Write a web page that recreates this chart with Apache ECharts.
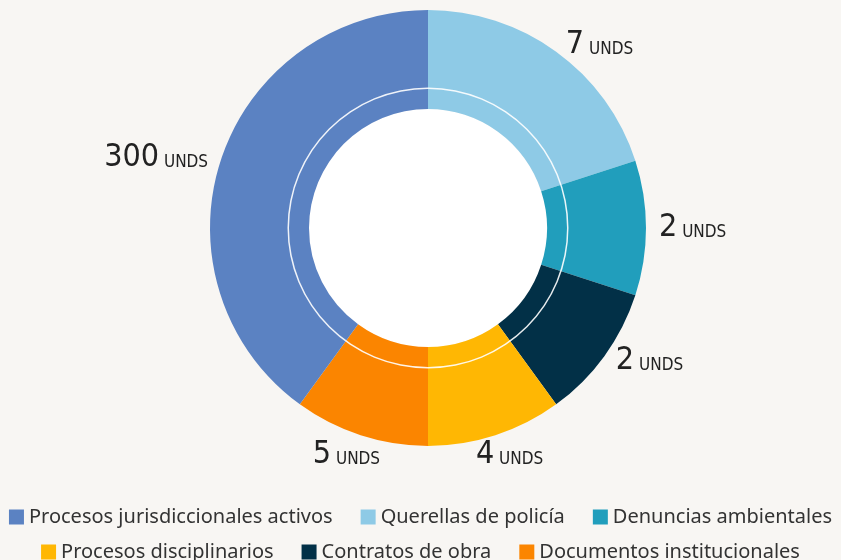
<!DOCTYPE html>
<html lang="es">
<head>
  <meta charset="UTF-8">
  <title>Unidades</title>
  <script src="https://cdn.jsdelivr.net/npm/echarts@6/dist/echarts.min.js"></script>
  <style>
    * { padding: 0; margin: 0; }
    body { background: #f8f6f3; }
    #box { width: 841px; height: 560px; }
  </style>
</head>
<body>
  <div id="box"></div>
  <script>
    // orden de las porciones en el anillo (desde arriba, sentido horario)
    var categorias = ['Querellas de policía', 'Denuncias ambientales', 'Contratos de obra',
      'Procesos disciplinarios', 'Documentos institucionales', 'Procesos jurisdiccionales activos']
    // tamaño de cada porción (%)
    var porcion = [20, 10, 10, 10, 10, 40]
    // unidades que se muestran en la etiqueta
    var unidades = [7, 2, 2, 4, 5, 300]
    var colores = ['#8ecae6', '#219ebc', '#023047', '#ffb703', '#fb8500', '#5b82c2']

    var leyenda1 = ['Procesos jurisdiccionales activos', 'Querellas de policía', 'Denuncias ambientales']
    var leyenda2 = ['Procesos disciplinarios', 'Contratos de obra', 'Documentos institucionales']

    var datos = []
    for (let i = 0; i < categorias.length; i++) {
      datos.push({
        name: categorias[i],
        value: porcion[i],
        unds: unidades[i],
        itemStyle: { color: colores[i] }
      })
    }

    // seno del ángulo medio de cada porción (para centrar las etiquetas de abajo)
    var total = porcion.reduce(function (a, b) { return a + b }, 0)
    function senoMedio(i) {
      var acum = 0
      for (let k = 0; k < i; k++) acum += porcion[k]
      var ang = (acum + porcion[i] / 2) / total * Math.PI * 2
      return Math.sin(ang)
    }

    var fuenteNum = "'DejaVu Sans Condensed', 'DejaVu Sans', sans-serif"

    var legendaBase = {
      icon: 'rect',
      itemWidth: 15,
      itemHeight: 15,
      itemGap: 28,
      selectedMode: false,
      textStyle: { fontFamily: 'Noto Sans', fontSize: 20, color: '#333' }
    }

    var mCharts = echarts.init(document.getElementById('box'))
    var option = {
      backgroundColor: '#f8f6f3',
      legend: [
        Object.assign({}, legendaBase, { data: leyenda1, left: 'center', top: 502 }),
        Object.assign({}, legendaBase, { data: leyenda2, left: 'center', top: 537 })
      ],
      series: [
        {
          // disco blanco interior
          type: 'pie',
          silent: true,
          center: [428, 228],
          radius: [0, 119],
          label: { show: false },
          labelLine: { show: false },
          data: [{ value: 1, name: '', itemStyle: { color: '#ffffff' } }],
          z: 1
        },
        {
          type: 'pie',
          center: [428, 228],
          radius: [119, 218],
          startAngle: 90,
          clockwise: true,
          avoidLabelOverlap: false,
          data: datos,
          label: {
            show: true,
            position: 'outside',
            formatter: function (p) {
              return '{n|' + p.data.unds + '}{u| UNDS}'
            },
            rich: {
              n: { fontFamily: fuenteNum, fontSize: 32, color: '#222', fontWeight: 300 },
              u: { fontFamily: fuenteNum, fontSize: 17, color: '#222', fontWeight: 300, padding: [9, 0, 0, 0] }
            }
          },
          labelLine: { show: false, length: 8, length2: 0 },
          labelLayout: function (p) {
            if (p.seriesIndex !== 1) return {}
            var s = senoMedio(p.dataIndex)
            if (Math.abs(s) < 0.4) {
              return { dx: -Math.sign(s) * p.labelRect.width * 0.4, dy: 12 }
            }
            return {}
          },
          emphasis: { scale: false },
          z: 2
        },
        {
          // anillo fino blanco
          type: 'pie',
          silent: true,
          center: [428, 228],
          radius: [139, 140.5],
          label: { show: false },
          labelLine: { show: false },
          data: [{ value: 1, name: '', itemStyle: { color: 'rgba(255,255,255,0.9)' } }],
          z: 3
        }
      ]
    }
    mCharts.setOption(option)
  </script>
</body>
</html>
